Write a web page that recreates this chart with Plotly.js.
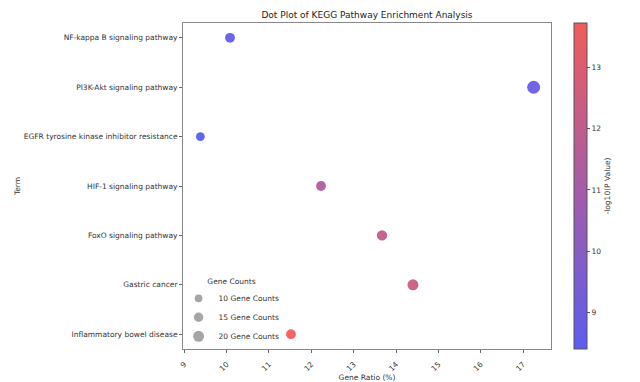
<!DOCTYPE html>
<html>
<head>
<meta charset="utf-8">
<script src="https://cdn.plot.ly/plotly-3.0.1.min.js"></script>
<style>
  html, body { margin: 0; padding: 0; background: #fff; }
  #chart { width: 640px; height: 382px; }
</style>
</head>
<body>
<div id="chart"></div>
<script>
// KEGG pathway terms, listed top to bottom
const terms = [
  "NF-kappa B signaling pathway",
  "PI3K-Akt signaling pathway",
  "EGFR tyrosine kinase inhibitor resistance",
  "HIF-1 signaling pathway",
  "FoxO signaling pathway",
  "Gastric cancer",
  "Inflammatory bowel disease"
];
// Gene ratio (%) per term
const geneRatio = [10.08, 17.25, 9.38, 12.23, 13.67, 14.40, 11.52];
// -log10(P value) per term
const negLogP = [8.7, 8.9, 8.41, 11.3, 12.0, 12.3, 13.72];
// Number of genes per term
const geneCounts = [16, 28, 13, 16, 18, 20, 16];
// Reference sizes for the size legend
const legendCounts = [10, 15, 20];
const xTicks = [9, 10, 11, 12, 13, 14, 15, 16, 17];
const cbTicks = [9, 10, 11, 12, 13];

// marker diameter grows with the square root of the gene count
const diam = c => 2.45 * Math.sqrt(c);

const font = "DejaVu Sans, sans-serif";
const textColor = "#333";

const main = {
  type: "scatter",
  mode: "markers",
  x: geneRatio,
  y: terms,
  showlegend: false,
  hoverinfo: "x+y",
  marker: {
    size: geneCounts.map(diam),
    sizemode: "diameter",
    color: negLogP,
    cmin: Math.min(...negLogP),
    cmax: Math.max(...negLogP),
    colorscale: [[0, "rgb(92,92,242)"], [1, "rgb(242,92,92)"]],
    opacity: 0.95,
    line: { width: 0 },
    colorbar: {
      x: 1.0625, xanchor: "left", xpad: 0,
      y: 0.5, yanchor: "middle", ypad: 0,
      len: 1, lenmode: "fraction",
      thickness: 13, thicknessmode: "pixels",
      outlinewidth: 1, outlinecolor: "#555",
      ticks: "outside", ticklen: 3, tickcolor: "#555", tickwidth: 1,
      tickvals: cbTicks,
      tickfont: { family: font, size: 7.5, color: textColor },
      title: { text: "-log10(P Value)", side: "right",
               font: { family: font, size: 7.5, color: textColor } }
    }
  }
};

// size legend entries (grey reference dots, no data drawn)
const legendTraces = legendCounts.map(c => ({
  type: "scatter",
  mode: "markers",
  x: [null],
  y: [null],
  name: c + " Gene Counts",
  showlegend: true,
  hoverinfo: "skip",
  marker: { size: diam(c), color: "rgba(128,128,128,0.7)", line: { width: 0 } }
}));

const layout = {
  width: 640,
  height: 382,
  margin: { l: 183, r: 89, t: 23, b: 33, pad: 0 },
  paper_bgcolor: "#fff",
  plot_bgcolor: "#fff",
  font: { family: font, size: 7.5, color: textColor },
  title: {
    text: "Dot Plot of KEGG Pathway Enrichment Analysis",
    font: { family: font, size: 9, color: "#222" },
    x: 0.5, xref: "paper", xanchor: "center",
    y: 1, yref: "paper", yanchor: "bottom", pad: { b: 5 }
  },
  xaxis: {
    range: [8.97, 17.66],
    tickvals: xTicks,
    tickangle: -45,
    ticks: "outside", ticklen: 3, tickcolor: "#666",
    ticklabelstandoff: 4,
    showgrid: false, zeroline: false,
    showline: true, mirror: true, linecolor: "#888", linewidth: 1,
    tickfont: { family: font, size: 7.5, color: textColor },
    title: { text: "Gene Ratio (%)", standoff: 3,
             font: { family: font, size: 7.5, color: textColor } }
  },
  yaxis: {
    type: "category",
    categoryorder: "array",
    categoryarray: terms,
    range: [6.3, -0.3],
    ticks: "outside", ticklen: 3, tickcolor: "#666",
    showgrid: false, zeroline: false,
    showline: true, mirror: true, linecolor: "#888", linewidth: 1,
    tickfont: { family: font, size: 7.5, color: textColor },
    title: { text: "Term", standoff: 2,
             font: { family: font, size: 7.5, color: textColor } }
  },
  showlegend: true,
  legend: {
    x: -0.012, xanchor: "left",
    y: 0.23, yanchor: "top",
    bgcolor: "rgba(255,255,255,0)",
    borderwidth: 0,
    itemsizing: "trace",
    tracegroupgap: 0,
    font: { family: font, size: 7.5, color: textColor },
    title: { text: "Gene Counts", side: "top center",
             font: { family: font, size: 7.5, color: textColor } }
  }
};

Plotly.newPlot("chart", [main, ...legendTraces], layout, { staticPlot: true, displayModeBar: false });
</script>
</body>
</html>
